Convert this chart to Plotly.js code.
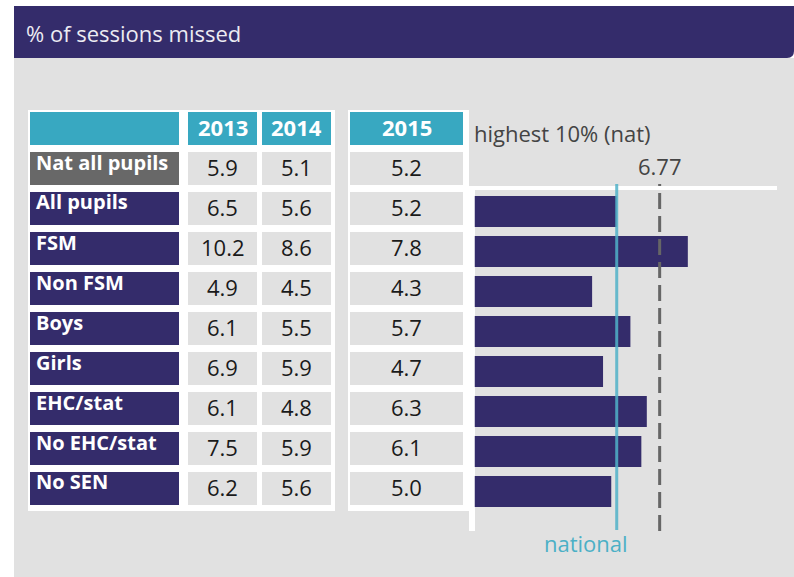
<!DOCTYPE html>
<html>
<head>
<meta charset="utf-8">
<script src="https://cdn.plot.ly/plotly-3.0.1.min.js"></script>
<style>html,body{margin:0;padding:0;background:#fff;}#chart{width:794px;height:577px;}</style>
</head>
<body>
<div id="chart"></div>
<script>
// ---- data ----
var title = "% of sessions missed";
var groups = ["Nat all pupils","All pupils","FSM","Non FSM","Boys","Girls","EHC/stat","No EHC/stat","No SEN"];
var years = ["2013","2014","2015"];
var v2013 = [5.9,6.5,10.2,4.9,6.1,6.9,6.1,7.5,6.2];
var v2014 = [5.1,5.6,8.6,4.5,5.5,5.9,4.8,5.9,5.6];
var v2015 = [5.2,5.2,7.8,4.3,5.7,4.7,6.3,6.1,5.0];
var highest10 = 6.77;
var highestLabel = "highest 10% (nat)";
var nationalLabel = "national";

// ---- layout helpers (pixels -> paper) ----
var W = 794, H = 577;
function px(x){return x/W;}
function py(y){return 1 - y/H;}
function rect(x0,y0,x1,y1,color,layer){
  return {type:'rect',xref:'paper',yref:'paper',x0:px(x0),x1:px(x1),y0:py(y1),y1:py(y0),
          fillcolor:color,line:{width:0},layer:layer||'below'};
}
var NAVY = '#342c6b', TEAL = '#38a8c1', GREYLAB = '#686868', CELL = '#e1e1e1', BG = '#e1e1e1';
var FONT = 'Open Sans, sans-serif';

var shapes = [];
var ann = [];
// background
shapes.push(rect(14,58,794,577,BG));
// title bar with rounded bottom-right corner
var rad = 7;
shapes.push({type:'path',xref:'paper',yref:'paper',layer:'below',fillcolor:NAVY,line:{width:0},
  path:'M '+px(14)+' '+py(6)+' L '+px(794)+' '+py(6)+' L '+px(794)+' '+py(58-rad)+
       ' Q '+px(794)+' '+py(58)+' '+px(794-rad)+' '+py(58)+' L '+px(14)+' '+py(58)+' Z'});
ann.push({xref:'paper',yref:'paper',x:px(24),y:py(33.5),xanchor:'left',yanchor:'middle',showarrow:false,
  text:title,font:{family:FONT,size:22,color:'#ecebf2'}});

// table frames
shapes.push(rect(28,110,335,511,'#ffffff'));
shapes.push(rect(348,110,469,511,'#ffffff'));
shapes.push(rect(469,186,475,531,'#ffffff'));
shapes.push(rect(469,186,777,190,'#ffffff'));

// header row
var colX = [[188,257],[262,331],[350,463]];
shapes.push(rect(30,112,179,145,TEAL));
for (var c=0;c<3;c++){
  shapes.push(rect(colX[c][0],112,colX[c][1],145,TEAL));
  ann.push({xref:'paper',yref:'paper',x:px((colX[c][0]+colX[c][1])/2),y:py(126.5),xanchor:'center',yanchor:'middle',
    showarrow:false,text:'<b>'+years[c]+'</b>',font:{family:FONT,size:22,color:'#ffffff'}});
}
// body rows
var cols = [v2013,v2014,v2015];
for (var i=0;i<groups.length;i++){
  var rowTop = 152 + 40*i, rowBot = rowTop + 33;
  shapes.push(rect(30,rowTop,179,rowBot,i===0?GREYLAB:NAVY));
  ann.push({xref:'paper',yref:'paper',x:px(34),y:py(rowTop+10),xanchor:'left',yanchor:'middle',showarrow:false,
    text:'<b>'+groups[i]+'</b>',font:{family:FONT,size:20,color:'#ffffff'}});
  for (var c2=0;c2<3;c2++){
    shapes.push(rect(colX[c2][0],rowTop,colX[c2][1],rowBot,CELL));
    ann.push({xref:'paper',yref:'paper',x:px((colX[c2][0]+colX[c2][1])/2),y:py(rowTop+15),xanchor:'center',yanchor:'middle',
      showarrow:false,text:cols[c2][i].toFixed(1),font:{family:FONT,size:22,color:'#1a1a1a'}});
  }
}

// reference lines (data coords on x)
shapes.push({type:'line',xref:'x',yref:'paper',x0:v2015[0],x1:v2015[0],y0:py(530),y1:py(184),layer:'above',
  line:{color:'rgba(80,178,200,0.85)',width:3}});
shapes.push({type:'line',xref:'x',yref:'paper',x0:highest10,x1:highest10,y0:py(531),y1:py(184),layer:'above',
  line:{color:'#666666',width:3,dash:'16px,7px'}});

ann.push({xref:'paper',yref:'paper',x:px(472),y:py(133),xanchor:'left',yanchor:'middle',showarrow:false,
  text:highestLabel,font:{family:FONT,size:22,color:'#444444'}});
ann.push({xref:'x',yref:'paper',x:highest10,y:py(166),xanchor:'center',yanchor:'middle',showarrow:false,
  text:highest10.toFixed(2),font:{family:FONT,size:22,color:'#444444'}});
ann.push({xref:'x',yref:'paper',x:v2015[0],y:py(543),xanchor:'right',yanchor:'middle',showarrow:false,xshift:13,
  text:nationalLabel,font:{family:FONT,size:22,color:'#4bb0c6'}});

var x0px = 474.5, scale = 27.35;
var trace = {type:'bar',orientation:'h',y:groups.slice(1),x:v2015.slice(1),
  marker:{color:NAVY,line:{width:0}},hoverinfo:'none',showlegend:false};

var layout = {
  width:W,height:H,margin:{l:0,r:0,t:0,b:0},
  paper_bgcolor:'#ffffff',plot_bgcolor:'rgba(0,0,0,0)',
  showlegend:false,bargap:0.225,
  xaxis:{domain:[px(x0px),1],range:[0,(W-x0px)/scale],showgrid:false,zeroline:false,showticklabels:false,showline:false,ticks:'',fixedrange:true},
  yaxis:{domain:[py(511.5),py(191.5)],type:'category',categoryorder:'array',categoryarray:groups.slice(1),range:[7.5,-0.5],
    showgrid:false,zeroline:false,showticklabels:false,showline:false,ticks:'',fixedrange:true},
  shapes:shapes,annotations:ann
};
Plotly.newPlot('chart',[trace],layout,{displayModeBar:false,staticPlot:true});
</script>
</body>
</html>
